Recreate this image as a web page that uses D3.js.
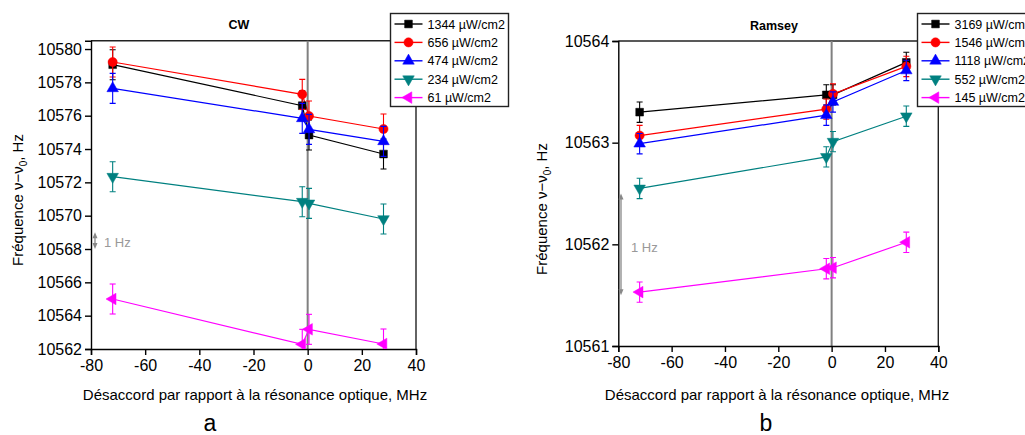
<!DOCTYPE html>
<html><head><meta charset="utf-8">
<script src="https://cdn.jsdelivr.net/npm/d3@7"></script>
<style>
html,body{margin:0;padding:0;background:#fff;}
svg{display:block;font-family:"Liberation Sans",Arial,sans-serif;}
</style></head>
<body><svg id="chart" width="1025" height="435"></svg>
<script>
// ---- data ----
const detuning = [-72, -2, 0.5, 28];
const xTicks = [-80, -60, -40, -20, 0, 20, 40];

const cwLabels = ["1344 µW/cm2", "656 µW/cm2", "474 µW/cm2", "234 µW/cm2", "61 µW/cm2"];
const cw1344 = [10579.06, 10576.60, 10574.84, 10573.70];
const cw656  = [10579.22, 10577.28, 10575.98, 10575.20];
const cw474  = [10577.64, 10575.84, 10575.18, 10574.46];
const cw234  = [10572.34, 10570.84, 10570.74, 10569.80];
const cw61   = [10565.00, 10562.28, 10563.18, 10562.30];
const cwErr  = [0.9, 0.9, 0.9, 0.9];
const cwYTicks = [10562, 10564, 10566, 10568, 10570, 10572, 10574, 10576, 10578, 10580];

const ramseyLabels = ["3169 µW/cm2", "1546 µW/cm2", "1118 µW/cm2", "552 µW/cm2", "145 µW/cm2"];
const r3169 = [10563.30, 10563.47, 10563.47, 10563.79];
const r1546 = [10563.07, 10563.33, 10563.48, 10563.75];
const r1118 = [10562.99, 10563.27, 10563.40, 10563.71];
const r552  = [10562.55, 10562.86, 10563.01, 10563.26];
const r145  = [10561.53, 10561.76, 10561.77, 10562.02];
const ramseyErr = [0.1, 0.1, 0.1, 0.1];
const ramseyYTicks = [10561, 10562, 10563, 10564];

const colors = ["#000000", "#ff0000", "#0000ff", "#008080", "#ff00ff"];
const shapes = ["square", "circle", "up", "down", "left"];

// ---- drawing ----
const svg = d3.select("#chart");

function marker(g, shape, color, x, y) {
  let sym, rot = 0, size = 62;
  if (shape === "square") { sym = d3.symbolSquare; size = 60; }
  else if (shape === "circle") { sym = d3.symbolCircle; size = 66; }
  else { sym = d3.symbolTriangle; size = 58;
    rot = shape === "up" ? 0 : shape === "down" ? 180 : -90; }
  g.append("path")
    .attr("d", d3.symbol().type(sym).size(size)())
    .attr("transform", `translate(${x},${y}) rotate(${rot})`)
    .attr("fill", color).attr("stroke", color).attr("stroke-width", 0.5);
}

function panel(opt) {
  const x = d3.scaleLinear().domain([-80, 40]).range([opt.x0, opt.x1]);
  const y = d3.scaleLinear().domain(opt.yDomain).range([opt.y1, opt.y0]);
  const g = svg.append("g");
  const clipId = "clip" + opt.id;
  svg.append("defs").append("clipPath").attr("id", clipId)
    .append("rect").attr("x", opt.x0).attr("y", opt.y0)
    .attr("width", opt.x1 - opt.x0).attr("height", opt.y1 - opt.y0);

  // frame top/right
  g.append("line").attr("x1", opt.x0).attr("x2", opt.x1).attr("y1", opt.y0).attr("y2", opt.y0)
    .attr("stroke", "#222").attr("stroke-width", 1.4);
  g.append("line").attr("x1", opt.x1).attr("x2", opt.x1).attr("y1", opt.y0).attr("y2", opt.y1)
    .attr("stroke", "#222").attr("stroke-width", 1.4);
  // zero line
  g.append("line").attr("x1", x(0)).attr("x2", x(0)).attr("y1", opt.y0).attr("y2", opt.y1)
    .attr("stroke", "#808080").attr("stroke-width", 2);

  // axes
  const xMinor = d3.range(-80, 41, 10);
  const xAx = g.append("g").attr("transform", `translate(0,${opt.y1})`);
  xAx.call(d3.axisBottom(x).tickValues(xMinor).tickSize(3).tickFormat(""));
  xAx.call(d3.axisBottom(x).tickValues(xTicks).tickSize(6).tickPadding(5).tickFormat(d => String(d)));
  xAx.selectAll("text").attr("font-size", 16).attr("fill", "#000")
    .attr("font-family", "Liberation Sans, Arial, sans-serif");
  xAx.selectAll("path,line").attr("stroke", "#000").attr("stroke-width", 1.4);

  const yAx = g.append("g").attr("transform", `translate(${opt.x0},0)`);
  yAx.call(d3.axisLeft(y).tickValues(opt.yMinor).tickSize(3).tickFormat(""));
  yAx.call(d3.axisLeft(y).tickValues(opt.yTicks).tickSize(6).tickPadding(3).tickFormat(d => String(d)));
  yAx.selectAll("text").attr("font-size", 16).attr("fill", "#000")
    .attr("font-family", "Liberation Sans, Arial, sans-serif");
  yAx.selectAll("path,line").attr("stroke", "#000").attr("stroke-width", 1.4);

  // series
  const dg = g.append("g").attr("clip-path", `url(#${clipId})`);
  const line = d3.line().x((d, i) => x(detuning[i])).y(d => y(d));
  opt.series.forEach((s, k) => {
    dg.append("path").datum(s).attr("d", line).attr("fill", "none")
      .attr("stroke", colors[k]).attr("stroke-width", 1.2);
  });
  opt.series.forEach((s, k) => {
    s.forEach((v, i) => {
      const cx = x(detuning[i]);
      const e = opt.err[i];
      const yt = y(v + e), yb = y(v - e);
      dg.append("line").attr("x1", cx).attr("x2", cx).attr("y1", yt).attr("y2", yb)
        .attr("stroke", colors[k]).attr("stroke-width", 1.1);
      [yt, yb].forEach(yy => dg.append("line").attr("x1", cx - 3).attr("x2", cx + 3)
        .attr("y1", yy).attr("y2", yy).attr("stroke", colors[k]).attr("stroke-width", 1.1));
      marker(dg, shapes[k], colors[k], cx, y(v));
    });
  });

  // 1 Hz arrow
  const ax = opt.arrowX, ya = y(opt.arrow[0]), yb2 = y(opt.arrow[1]);
  g.append("line").attr("x1", ax).attr("x2", ax).attr("y1", ya + 4).attr("y2", yb2 - 4)
    .attr("stroke", "#888").attr("stroke-width", 1.3);
  g.append("path").attr("d", `M${ax - 2.5},${ya + 6} L${ax},${ya} L${ax + 2.5},${ya + 6} Z`).attr("fill", "#888");
  g.append("path").attr("d", `M${ax - 2.5},${yb2 - 6} L${ax},${yb2} L${ax + 2.5},${yb2 - 6} Z`).attr("fill", "#888");
  g.append("text").attr("x", opt.hzX).attr("y", opt.hzY).attr("font-size", 13).attr("fill", "#999").text("1 Hz");

  // title
  g.append("text").attr("x", opt.titleX).attr("y", opt.titleY).attr("text-anchor", "middle")
    .attr("font-size", 12.5).attr("font-weight", "bold").text(opt.title);

  // axis labels
  g.append("text").attr("x", opt.xLabelX).attr("y", 400).attr("text-anchor", "middle")
    .attr("font-size", 15).text("Désaccord par rapport à la résonance optique, MHz");
  const yl = g.append("text").attr("transform", `translate(${opt.yLabelX},${opt.yLabelY}) rotate(-90)`)
    .attr("text-anchor", "middle").attr("font-size", 15);
  yl.append("tspan").text("Fréquence ν−ν");
  yl.append("tspan").attr("font-size", 10).attr("dy", 4).text("0");
  yl.append("tspan").attr("dy", -4).text(", Hz");

  g.append("text").attr("x", opt.letterX).attr("y", 431).attr("text-anchor", "middle")
    .attr("font-size", 23).text(opt.letter);

  // legend
  const lg = g.append("g");
  lg.append("rect").attr("x", opt.legX).attr("y", 13.5).attr("width", opt.legW).attr("height", 93)
    .attr("fill", "#fff").attr("stroke", "#222").attr("stroke-width", 1.4);
  opt.labels.forEach((lab, k) => {
    const yy = 24 + k * 18.4;
    lg.append("line").attr("x1", opt.legX + 4).attr("x2", opt.legX + 32).attr("y1", yy).attr("y2", yy)
      .attr("stroke", colors[k]).attr("stroke-width", 1.4);
    marker(lg, shapes[k], colors[k], opt.legX + 18, yy);
    lg.append("text").attr("x", opt.legX + 37).attr("y", yy + 4.5).attr("font-size", 12.5).text(lab);
  });
}

panel({
  id: "a", x0: 91, x1: 416, y0: 40.7, y1: 349,
  yDomain: [10562, 10580.5], yTicks: cwYTicks, yMinor: d3.range(10562, 10581, 1),
  series: [cw1344, cw656, cw474, cw234, cw61], err: cwErr, labels: cwLabels,
  arrow: [10569, 10568], arrowX: 95, hzX: 104, hzY: 247,
  title: "CW", titleX: 239, titleY: 29,
  xLabelX: 255, yLabelX: 23, yLabelY: 200, letter: "a", letterX: 210,
  legX: 390.5, legW: 118
});

panel({
  id: "b", x0: 618.3, x1: 938.3, y0: 41, y1: 346,
  yDomain: [10561, 10564], yTicks: ramseyYTicks, yMinor: d3.range(10561, 10564.01, 0.5),
  series: [r3169, r1546, r1118, r552, r145], err: ramseyErr, labels: ramseyLabels,
  arrow: [10562.5, 10561.5], arrowX: 621, hzX: 631, hzY: 252,
  title: "Ramsey", titleX: 774, titleY: 30,
  xLabelX: 777, yLabelX: 547, yLabelY: 209, letter: "b", letterX: 766,
  legX: 917.5, legW: 120
});
</script>
</body></html>
